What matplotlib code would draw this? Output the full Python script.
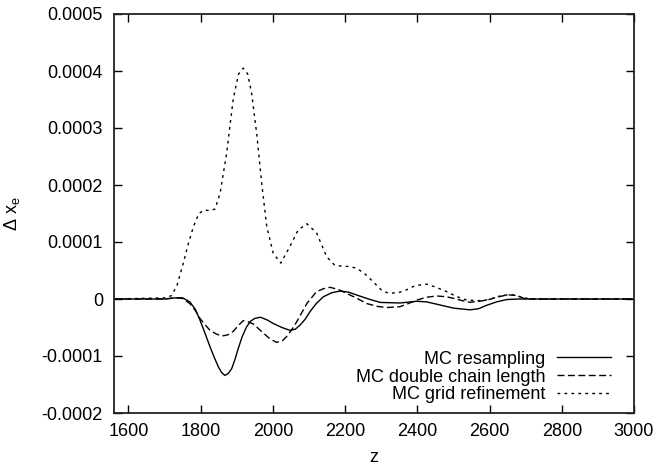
import matplotlib
matplotlib.use("Agg")
import matplotlib.pyplot as plt
import numpy as np

plt.rcParams['font.family'] = ['Liberation Sans', 'DejaVu Sans']
plt.rcParams['font.size'] = 13

# ---- data (values in units of 1e-4) ----
z_grid = [1560, 1700, 1720, 1735, 1752, 1765, 1780, 1795, 1810, 1825, 1840, 1854, 1872, 1890,
          1905, 1918, 1930, 1941, 1955, 1969, 1983, 2001, 2022, 2047, 2070, 2094, 2121, 2149,
          2170, 2186, 2210, 2232, 2255, 2278, 2300, 2320, 2347, 2370, 2389, 2410, 2426, 2450,
          2481, 2510, 2537, 2574, 2600, 2620, 2645, 2666, 2690, 2712, 2750, 3000]
v_grid = [0, 0.02, 0.06, 0.25, 0.63, 0.95, 1.27, 1.5, 1.56, 1.55, 1.58, 1.86, 2.56, 3.5,
          3.95, 4.05, 3.95, 3.62, 2.91, 2.03, 1.27, 0.80, 0.63, 0.92, 1.21, 1.32, 1.16, 0.74,
          0.6, 0.58, 0.57, 0.54, 0.44, 0.30, 0.16, 0.10, 0.11, 0.16, 0.22, 0.25, 0.26, 0.21,
          0.13, 0.04, -0.02, -0.03, -0.01, 0.04, 0.07, 0.07, 0.03, 0.0, 0.0, 0]

z_res = [1560, 1700, 1730, 1750, 1770, 1785, 1798, 1812, 1826, 1838, 1849, 1858, 1867, 1876,
         1886, 1895, 1904, 1915, 1927, 1938, 1950, 1966, 1985, 2001, 2025, 2047, 2062, 2075,
         2090, 2103, 2120, 2140, 2163, 2186, 2210, 2232, 2265, 2297, 2352, 2398, 2425, 2453,
         2500, 2546, 2570, 2592, 2620, 2647, 2680, 3000]
v_res = [0, 0, 0.02, 0.02, -0.05, -0.18, -0.37, -0.60, -0.84, -1.03, -1.19, -1.29, -1.34, -1.31,
         -1.22, -1.06, -0.87, -0.66, -0.49, -0.39, -0.34, -0.32, -0.37, -0.43, -0.50, -0.55, -0.53, -0.46,
         -0.35, -0.22, -0.08, 0.04, 0.11, 0.14, 0.12, 0.07, 0.0, -0.06, -0.07, -0.04, -0.05, -0.09,
         -0.16, -0.19, -0.17, -0.11, -0.05, -0.01, 0, 0]

z_dbl = [1560, 1700, 1730, 1750, 1770, 1785, 1798, 1812, 1826, 1842, 1858, 1875, 1890, 1905,
         1918, 1932, 1946, 1960, 1974, 1992, 2010, 2025, 2038, 2052, 2066, 2080, 2094, 2108,
         2121, 2140, 2158, 2180, 2204, 2230, 2260, 2290, 2315, 2352, 2375, 2398, 2425, 2453,
         2480, 2500, 2525, 2546, 2570, 2592, 2620, 2647, 2665, 2680, 2700, 3000]
v_dbl = [0, 0, 0.02, 0.01, -0.08, -0.2, -0.34, -0.45, -0.55, -0.61, -0.65, -0.63, -0.57, -0.46,
         -0.38, -0.40, -0.44, -0.52, -0.60, -0.70, -0.76, -0.74, -0.66, -0.54, -0.40, -0.24, -0.08, 0.03,
         0.13, 0.18, 0.205, 0.17, 0.10, 0.02, -0.08, -0.13, -0.15, -0.135, -0.08, -0.02, 0.03, 0.053,
         0.04, 0.012, -0.03, -0.058, -0.04, -0.02, 0.03, 0.07, 0.07, 0.05, 0.0, 0]

labels = ["MC resampling", "MC double chain length", "MC grid refinement"]
x_ticks = [1600, 1800, 2000, 2200, 2400, 2600, 2800, 3000]
y_ticks = [-0.0002, -0.0001, 0, 0.0001, 0.0002, 0.0003, 0.0004, 0.0005]
y_ticklabels = ["-0.0002", "-0.0001", "0", "0.0001", "0.0002", "0.0003", "0.0004", "0.0005"]

fig = plt.figure(figsize=(6.57, 4.68), dpi=100)
ax = fig.add_axes([114/657, 1 - 413/468, 520/657, 399/468])

scale = 1e-4
ax.plot(z_res, np.array(v_res) * scale, color='black', lw=1.0, label=labels[0])
ax.plot(z_dbl, np.array(v_dbl) * scale, color='black', lw=1.0, dashes=(5, 2.5), label=labels[1])
ax.plot(z_grid, np.array(v_grid) * scale, color='black', lw=1.0, dashes=(2, 3), label=labels[2])

ax.set_xlim(1560, 3000)
ax.set_ylim(-0.0002, 0.0005)
ax.set_xticks(x_ticks)
ax.set_yticks(y_ticks)
ax.set_yticklabels(y_ticklabels)
ax.tick_params(direction='in', top=True, right=True, length=5.5, width=1.0, pad=7, colors='black')
ax.tick_params(axis='y', pad=8)
for s in ax.spines.values():
    s.set_linewidth(1.3)
    s.set_color('#222222')

ax.set_xlabel('z', labelpad=7)
ax.set_ylabel('Δ x$_\\mathregular{e}$', labelpad=14)

leg = ax.legend(loc='lower right', bbox_to_anchor=(497/520, 0.024), frameon=False,
                markerfirst=False, handlelength=3.0, handletextpad=0.65,
                borderpad=0, borderaxespad=0, labelspacing=0.05)

fig.savefig('out.png', dpi=100)
